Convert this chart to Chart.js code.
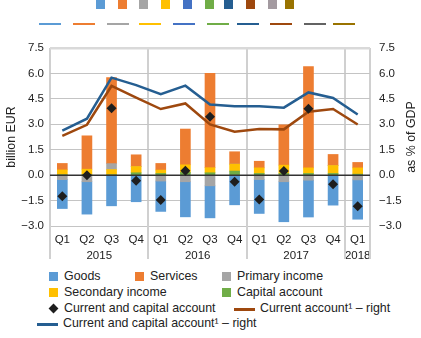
<!DOCTYPE html>
<html>
<head>
<meta charset="utf-8">
<script src="https://cdn.jsdelivr.net/npm/chart.js@4/dist/chart.umd.min.js"></script>
<style>
  body { margin: 0; background: #fff; }
  #wrap { position: relative; width: 421px; height: 338px; overflow: hidden; font-family: "Liberation Sans", Arial, sans-serif; color: #222; }
  #chartBox { position: absolute; left: 0; top: 0; width: 421px; height: 262px; }
  .sw { position: absolute; }
  .leg { position: absolute; font-size: 12.4px; white-space: nowrap; line-height: 14px; }
</style>
</head>
<body>
<div id="wrap">
  <div id="chartBox"><canvas id="myChart"></canvas></div>
</div>
<script>
// Categorías y años
const quarters = ['Q1', 'Q2', 'Q3', 'Q4', 'Q1', 'Q2', 'Q3', 'Q4', 'Q1', 'Q2', 'Q3', 'Q4', 'Q1'];
const years = ['2015', '2016', '2017', '2018'];
const yearSpans = [4, 4, 4, 1];

// Series (billion EUR)
const goods = [-1.71, -1.91, -1.81, -1.57, -1.79, -2.07, -1.89, -1.75, -2.00, -2.36, -2.17, -1.77, -2.32];
const services = [0.38, 1.97, 5.07, 0.69, 0.39, 2.11, 5.57, 0.73, 0.39, 2.38, 5.97, 0.65, 0.32];
const primaryIncome = [-0.26, -0.39, 0.35, 0, -0.35, -0.39, -0.63, 0, -0.26, -0.39, -0.30, 0, -0.28];
const secondaryIncome = [0.30, 0.33, 0.30, 0.37, 0.20, 0.45, 0.30, 0.41, 0.33, 0.49, 0.33, 0.47, 0.37];
const capitalAccount = [0.01, 0.02, 0.03, 0.14, 0.10, 0.16, 0.14, 0.24, 0.10, 0.10, 0.10, 0.10, 0.06];
const currentAndCapital = [-1.24, 0.00, 3.94, -0.33, -1.46, 0.26, 3.44, -0.39, -1.44, 0.24, 3.92, -0.53, -1.83];

// Series (% of GDP, eje derecho)
const currentAccountGdp = [2.32, 2.97, 5.26, 4.57, 3.90, 4.23, 2.99, 2.56, 2.72, 2.70, 3.74, 3.90, 2.99];
const currentCapitalGdp = [2.62, 3.33, 5.75, 5.31, 4.78, 5.28, 4.17, 4.06, 4.07, 3.98, 4.88, 4.55, 3.58];

// Colores
const cGoods = '#5B9BD5', cServices = '#ED7D31', cPrimary = '#A5A5A5', cSecondary = '#FFC000', cCapital = '#70AD47';
const cBrown = '#9E480E', cBlue = '#255E91', cDiamond = '#1e1e1e';

const FONT = "'Liberation Sans', Arial, sans-serif";
const fmt = v => v.toFixed(1).replace('-', '\u2212');

// Muestras sueltas de la parte superior (restos de leyenda del original)
const topSquares = ['#5B9BD5', '#ED7D31', '#A5A5A5', '#FFC000', '#4472C4', '#70AD47', '#255E91', '#9E480E', '#A39AA0', '#997300'];
const topDashes = ['#5B9BD5', '#ED7D31', '#A5A5A5', '#FFC000', '#4472C4', '#70AD47', '#255E91', '#9E480E', '#636363', '#997300'];
const squareLefts = [96, 118, 139, 161, 183, 205, 224, 246, 268, 285];
const dashLefts = [39, 73, 107, 139, 173, 207, 237, 270, 304, 333];

const wrap = document.getElementById('wrap');
function addBox(css) {
    const d = document.createElement('div');
    d.className = 'sw';
    Object.assign(d.style, css);
    wrap.appendChild(d);
    return d;
}
topSquares.forEach((c, i) => addBox({ left: squareLefts[i] + 'px', top: '0px', width: '9px', height: '9px', background: c }));
topDashes.forEach((c, i) => addBox({ left: dashLefts[i] + 'px', top: '23px', width: '22px', height: '2px', background: c }));

// Leyenda HTML
function legendItem(kind, color, text, x, y) {
    if (kind === 'box') {
        addBox({ left: x + 'px', top: (y - 5) + 'px', width: '9px', height: '9px', background: color });
    } else if (kind === 'line') {
        addBox({ left: x + 'px', top: (y - 1) + 'px', width: '21px', height: '2.5px', background: color });
    } else {
        addBox({ left: (x + 1) + 'px', top: (y - 4) + 'px', width: '7px', height: '7px', background: color, transform: 'rotate(45deg)' });
    }
    const t = document.createElement('div');
    t.className = 'leg';
    t.textContent = text;
    t.style.left = (kind === 'line' ? x + 26 : x + 15) + 'px';
    t.style.top = (y - 8) + 'px';
    wrap.appendChild(t);
}
legendItem('box', cGoods, 'Goods', 49, 277);
legendItem('box', cServices, 'Services', 135, 277);
legendItem('box', cPrimary, 'Primary income', 222, 277);
legendItem('box', cSecondary, 'Secondary income', 49, 293);
legendItem('box', cCapital, 'Capital account', 222, 293);
legendItem('diamond', cDiamond, 'Current and capital account', 49, 309);
legendItem('line', cBrown, 'Current account\u00B9 \u2013 right', 234, 309);
legendItem('line', cBlue, 'Current and capital account\u00B9 \u2013 right', 37, 324);

// Plugin: línea de cero, años, separadores y títulos de ejes
const extras = {
    id: 'extras',
    beforeDatasetDraw(chart, args) {
        if (args.index !== 2) return;
        const { ctx, chartArea, scales } = chart;
        const y0 = scales.y.getPixelForValue(0);
        ctx.save();
        ctx.strokeStyle = '#333';
        ctx.lineWidth = 1.5;
        ctx.beginPath();
        ctx.moveTo(chartArea.left, y0);
        ctx.lineTo(chartArea.right, y0);
        ctx.stroke();
        ctx.restore();
    },
    afterDraw(chart) {
        const { ctx, chartArea, scales } = chart;
        const x = scales.x;
        const half = (x.getPixelForValue(1) - x.getPixelForValue(0)) / 2;
        ctx.save();
        ctx.strokeStyle = '#d0d0d0';
        ctx.lineWidth = 2;
        ctx.fillStyle = '#222';
        ctx.font = '11.5px ' + FONT;
        ctx.textAlign = 'center';
        ctx.textBaseline = 'middle';
        let start = 0;
        const bounds = [0];
        years.forEach((yr, i) => {
            const end = start + yearSpans[i] - 1;
            const cx = (x.getPixelForValue(start) + x.getPixelForValue(end)) / 2;
            ctx.fillText(yr, cx, chartArea.bottom + 30);
            start = end + 1;
            bounds.push(start);
        });
        bounds.forEach(b => {
            const px = Math.round(x.getPixelForValue(b) - half);
            ctx.beginPath();
            ctx.moveTo(px, chartArea.bottom);
            ctx.lineTo(px, chartArea.bottom + 33);
            ctx.stroke();
        });
        // títulos rotados
        const cy = (chartArea.top + chartArea.bottom) / 2;
        ctx.font = '12.4px ' + FONT;
        [['billion EUR', 12], ['as % of GDP', 412]].forEach(([txt, tx]) => {
            ctx.save();
            ctx.translate(tx, cy);
            ctx.rotate(-Math.PI / 2);
            ctx.fillText(txt, 0, 0);
            ctx.restore();
        });
        ctx.restore();
    }
};

const ctx = document.getElementById('myChart').getContext('2d');
new Chart(ctx, {
    type: 'bar',
    data: {
        labels: quarters,
        datasets: [
            { type: 'line', label: 'Current and capital account', data: currentAndCapital, yAxisID: 'y', stack: 'diamonds',
              showLine: false, pointStyle: 'rectRot', pointRadius: 5, backgroundColor: cDiamond, borderColor: cDiamond, borderWidth: 0 },
            { type: 'line', label: 'Current and capital account\u00B9 \u2013 right', data: currentCapitalGdp, yAxisID: 'y2',
              borderColor: cBlue, borderWidth: 2.5, pointRadius: 0, fill: false, tension: 0 },
            { type: 'line', label: 'Current account\u00B9 \u2013 right', data: currentAccountGdp, yAxisID: 'y2',
              borderColor: cBrown, borderWidth: 2.5, pointRadius: 0, fill: false, tension: 0 },
            { label: 'Capital account', data: capitalAccount, backgroundColor: cCapital, stack: 'bars', yAxisID: 'y' },
            { label: 'Secondary income', data: secondaryIncome, backgroundColor: cSecondary, stack: 'bars', yAxisID: 'y' },
            { label: 'Primary income', data: primaryIncome, backgroundColor: cPrimary, stack: 'bars', yAxisID: 'y' },
            { label: 'Services', data: services, backgroundColor: cServices, stack: 'bars', yAxisID: 'y' },
            { label: 'Goods', data: goods, backgroundColor: cGoods, stack: 'bars', yAxisID: 'y' }
        ]
    },
    options: {
        responsive: true,
        maintainAspectRatio: false,
        animation: false,
        barThickness: 10,
        layout: { padding: { top: 48, left: 0, right: 0, bottom: 0 } },
        plugins: { legend: { display: false }, tooltip: { enabled: false } },
        scales: {
            x: {
                stacked: true,
                offset: true,
                border: { display: false },
                grid: {
                    offset: true,
                    drawTicks: false,
                    lineWidth: 2,
                    color: c => (c.index === undefined || c.index % 4 === 0) ? '#d0d0d0' : 'transparent'
                },
                ticks: { padding: 7, color: '#222', font: { family: FONT, size: 11.5 } },
                afterFit: s => { s.height = 36; }
            },
            y: {
                stacked: true,
                min: -3, max: 7.5,
                border: { display: false },
                grid: {
                    drawTicks: false,
                    color: c => c.tick.value === 7.5 ? '#d9d9d9' : (c.tick.value === 0 ? 'transparent' : '#c4c4c4'),
                    lineWidth: c => c.tick.value === 7.5 ? 2.5 : 1
                },
                ticks: { stepSize: 1.5, padding: 6, color: '#222', font: { family: FONT, size: 11.5 }, callback: v => fmt(v) },
                afterFit: s => { s.width = 50; }
            },
            y2: {
                position: 'right',
                min: -3, max: 7.5,
                border: { display: false },
                grid: { drawOnChartArea: false, drawTicks: false },
                ticks: { stepSize: 1.5, padding: 9, color: '#222', font: { family: FONT, size: 11.5 }, callback: v => fmt(v) },
                afterFit: s => { s.width = 51; }
            }
        }
    },
    plugins: [extras]
});
</script>
</body>
</html>
